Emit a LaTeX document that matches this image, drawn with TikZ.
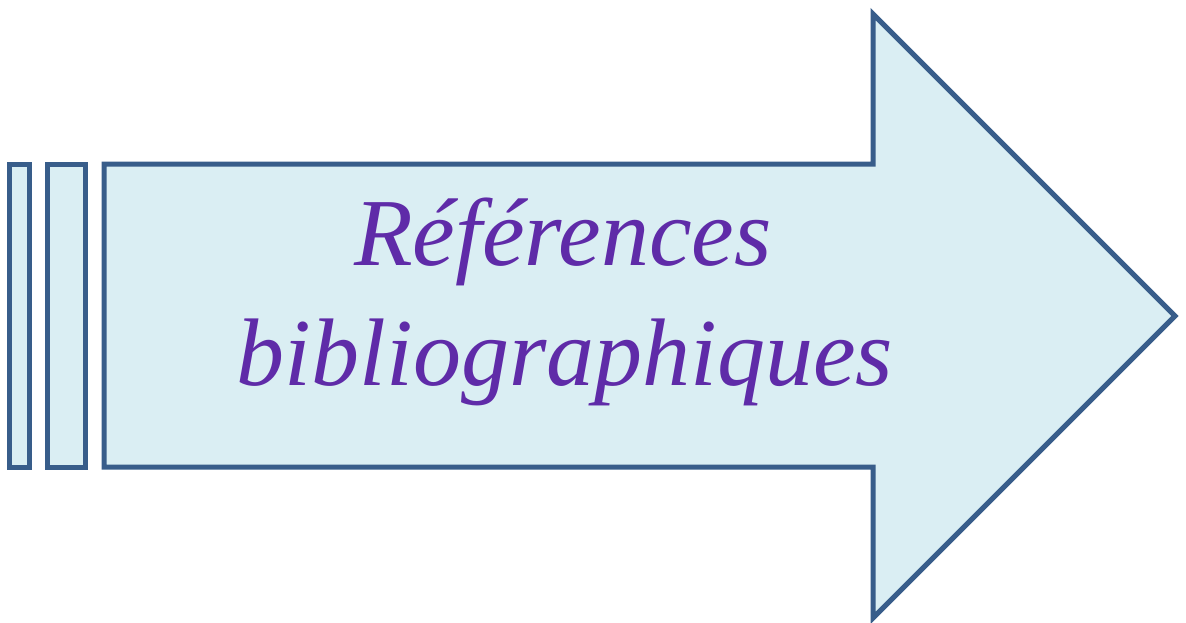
\documentclass[tikz,border=0pt]{standalone}
\usepackage{fontspec}
\setmainfont{Liberation Serif}[ItalicFont={Liberation Serif Italic}]
\begin{document}
\definecolor{edgeblue}{HTML}{385D8A}
\definecolor{paleblue}{HTML}{DAEEF3}
\definecolor{titlepurple}{HTML}{5F2BA8}
\begin{tikzpicture}[x=1pt,y=-1pt,
  shapeline/.style={draw=edgeblue,fill=paleblue,line width=5pt,line join=miter,miter limit=10},
  title/.style={font=\itshape\fontsize{96}{120}\selectfont,text=titlepurple,anchor=base,inner sep=0pt}]
\useasboundingbox (0,0) rectangle (1186,622);
% two narrow bars behind the arrow
\path[shapeline] (9.5,164) rectangle (29,467);
\path[shapeline] (47.5,164) rectangle (85.5,467);
% block arrow pointing right
\path[shapeline] (104,164) -- (873,164) -- (873,14) -- (1175,316)
  -- (873,618) -- (873,467) -- (104,467) -- cycle;
\node[title] (line1) at (563,265) {Références};
\node[title] (line2) at (565,385) {bibliographiques};
\end{tikzpicture}
\end{document}
